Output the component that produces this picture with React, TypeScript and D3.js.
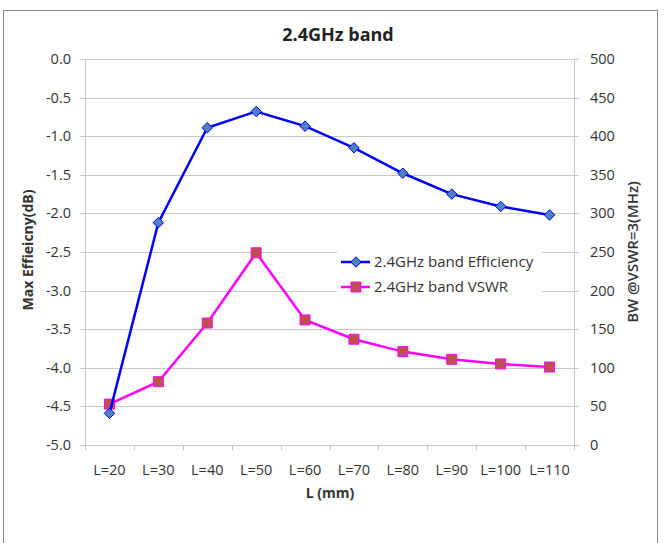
import { useEffect, useRef } from "react"
import * as d3 from "d3"

const categories = ["L=20", "L=30", "L=40", "L=50", "L=60", "L=70", "L=80", "L=90", "L=100", "L=110"]
const efficiency = [-4.59, -2.12, -0.89, -0.68, -0.87, -1.15, -1.48, -1.75, -1.91, -2.02]
const vswr = [53, 82, 158, 249, 162, 137, 121, 111, 105, 101]
const leftTicks = [0, -0.5, -1, -1.5, -2, -2.5, -3, -3.5, -4, -4.5, -5]
const rightTicks = [0, 50, 100, 150, 200, 250, 300, 350, 400, 450, 500]

const FONT = "'Open Sans', sans-serif"

export default function App() {
  const svgRef = useRef<SVGSVGElement>(null)

  useEffect(() => {
    if (!svgRef.current) return
    const svg = d3.select(svgRef.current)
    svg.selectAll("*").remove()

    const left = 85
    const right = 574
    const top = 59
    const bottom = 445

    const x = d3.scaleBand().domain(categories).range([left, right]).padding(0)
    const yL = d3.scaleLinear().domain([-5, 0]).range([bottom, top])
    const yR = d3.scaleLinear().domain([0, 500]).range([bottom, top])
    const cx = (c: string) => (x(c) as number) + x.bandwidth() / 2

    // Chart border
    svg
      .append("rect")
      .attr("x", 3.5)
      .attr("y", 10.5)
      .attr("width", 654)
      .attr("height", 545)
      .attr("fill", "white")
      .attr("stroke", "#8c8c8c")

    // Title
    svg
      .append("text")
      .attr("x", 338)
      .attr("y", 41)
      .attr("text-anchor", "middle")
      .attr("font-family", FONT)
      .attr("font-weight", "bold")
      .attr("font-size", 18)
      .attr("fill", "#222")
      .text("2.4GHz band")

    // Gridlines with tick marks on both sides
    svg
      .append("g")
      .selectAll("line")
      .data(leftTicks)
      .enter()
      .append("line")
      .attr("x1", left - 5)
      .attr("x2", right + 5)
      .attr("y1", (d) => Math.round(yL(d)) + 0.5)
      .attr("y2", (d) => Math.round(yL(d)) + 0.5)
      .attr("stroke", "#c8c8c8")
      .attr("stroke-width", 1)

    // Vertical axes
    ;[left, right].forEach((xx) => {
      svg
        .append("line")
        .attr("x1", xx + 0.5)
        .attr("x2", xx + 0.5)
        .attr("y1", top)
        .attr("y2", bottom + 0.5)
        .attr("stroke", "#c8c8c8")
    })

    // X ticks
    const edges = categories.map((c) => x(c) as number).concat([right])
    svg
      .append("g")
      .selectAll("line")
      .data(edges)
      .enter()
      .append("line")
      .attr("x1", (d) => Math.round(d) + 0.5)
      .attr("x2", (d) => Math.round(d) + 0.5)
      .attr("y1", bottom)
      .attr("y2", bottom + 5)
      .attr("stroke", "#c8c8c8")

    const labelStyle = (sel: d3.Selection<SVGTextElement, any, any, any>) =>
      sel.attr("font-family", FONT).attr("font-size", 14.5).attr("fill", "#333")

    // Left tick labels
    svg
      .append("g")
      .selectAll("text")
      .data(leftTicks)
      .enter()
      .append("text")
      .attr("x", 71)
      .attr("y", (d) => yL(d) + 5)
      .attr("text-anchor", "end")
      .call(labelStyle)
      .text((d) => d.toFixed(1))

    // Right tick labels
    svg
      .append("g")
      .selectAll("text")
      .data(rightTicks)
      .enter()
      .append("text")
      .attr("x", 590)
      .attr("y", (d) => yR(d) + 5)
      .attr("text-anchor", "start")
      .call(labelStyle)
      .text((d) => String(d))

    // X labels
    svg
      .append("g")
      .selectAll("text")
      .data(categories)
      .enter()
      .append("text")
      .attr("x", (d) => cx(d))
      .attr("y", 475)
      .attr("text-anchor", "middle")
      .call(labelStyle)
      .text((d) => d)

    // Axis titles
    svg
      .append("text")
      .attr("x", 330)
      .attr("y", 498)
      .attr("text-anchor", "middle")
      .attr("font-family", FONT)
      .attr("font-weight", "bold")
      .attr("font-size", 14)
      .attr("fill", "#333")
      .text("L (mm)")

    svg
      .append("text")
      .attr("transform", `translate(33, ${(top + bottom) / 2 - 2}) rotate(-90)`)
      .attr("text-anchor", "middle")
      .attr("font-family", FONT)
      .attr("font-weight", "bold")
      .attr("font-size", 14)
      .attr("fill", "#333")
      .text("Max Effieicny(dB)")

    svg
      .append("text")
      .attr("transform", `translate(638, ${(top + bottom) / 2}) rotate(-90)`)
      .attr("text-anchor", "middle")
      .attr("font-family", FONT)
      .attr("font-weight", 600)
      .attr("font-size", 15)
      .attr("fill", "#333")
      .text("BW @VSWR=3(MHz)")

    // Series
    const effLine = d3
      .line<number>()
      .x((_, i) => cx(categories[i]))
      .y((d) => yL(d))
    const vswrLine = d3
      .line<number>()
      .x((_, i) => cx(categories[i]))
      .y((d) => yR(d))

    const diamond = d3.symbol().type(d3.symbolDiamond2).size(70)
    const square = (s: number) => `M${-s},${-s}H${s}V${s}H${-s}Z`

    svg
      .append("path")
      .datum(vswr)
      .attr("d", vswrLine)
      .attr("fill", "none")
      .attr("stroke", "#ff00ff")
      .attr("stroke-width", 2.5)

    svg
      .append("g")
      .selectAll("path")
      .data(vswr)
      .enter()
      .append("path")
      .attr("transform", (d, i) => `translate(${cx(categories[i])},${yR(d)})`)
      .attr("d", square(5))
      .attr("fill", "#c0504d")
      .attr("stroke", "#ff00ff")
      .attr("stroke-width", 1)

    svg
      .append("path")
      .datum(efficiency)
      .attr("d", effLine)
      .attr("fill", "none")
      .attr("stroke", "#0000ff")
      .attr("stroke-width", 2.5)

    svg
      .append("g")
      .selectAll("path")
      .data(efficiency)
      .enter()
      .append("path")
      .attr("transform", (d, i) => `translate(${cx(categories[i])},${yL(d)})`)
      .attr("d", diamond)
      .attr("fill", "#4f81bd")
      .attr("stroke", "#0000ff")
      .attr("stroke-width", 1)

    // Legend
    const lg = svg.append("g")
    lg.append("rect").attr("x", 337).attr("y", 251).attr("width", 205).attr("height", 48).attr("fill", "white")
    const items = [
      { name: "2.4GHz band Efficiency", color: "#0000ff", fill: "#4f81bd", kind: "diamond" },
      { name: "2.4GHz band VSWR", color: "#ff00ff", fill: "#c0504d", kind: "square" },
    ]
    items.forEach((it, i) => {
      const yy = 262 + i * 25
      lg.append("line")
        .attr("x1", 341)
        .attr("x2", 370)
        .attr("y1", yy)
        .attr("y2", yy)
        .attr("stroke", it.color)
        .attr("stroke-width", 2.5)
      lg.append("path")
        .attr("transform", `translate(356,${yy})`)
        .attr("d", it.kind === "diamond" ? diamond() : square(5))
        .attr("fill", it.fill)
        .attr("stroke", it.color)
      lg.append("text")
        .attr("x", 374)
        .attr("y", yy + 5)
        .attr("font-family", FONT)
        .attr("font-size", 15)
        .attr("fill", "#333")
        .text(it.name)
    })
  }, [])

  return (
    <svg
      ref={svgRef}
      width={664}
      height={543}
      style={{ position: "absolute", left: 0, top: 0, background: "white" }}
    />
  )
}
